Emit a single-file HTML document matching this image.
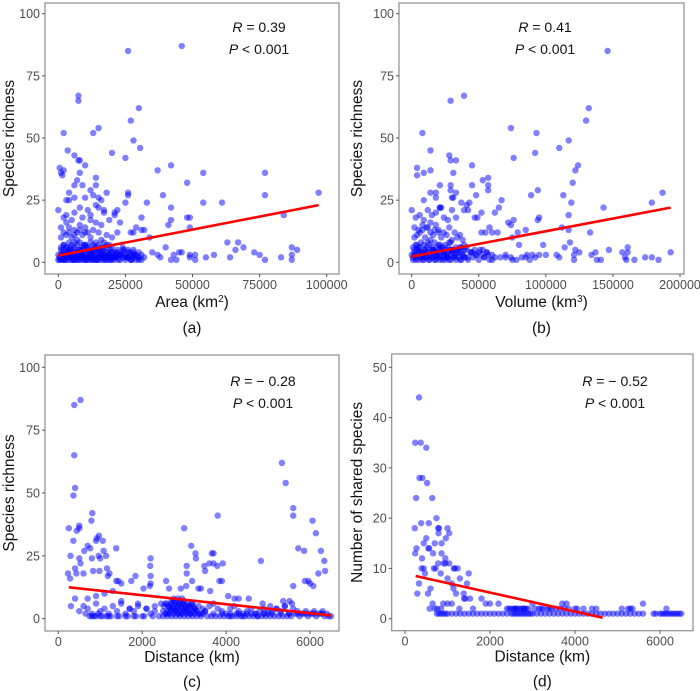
<!DOCTYPE html>
<html><head><meta charset="utf-8"><style>
html,body{margin:0;padding:0;background:#fff;}
svg{display:block;font-family:"Liberation Sans",Arial,sans-serif;}
</style></head><body>
<svg id="fig" width="700" height="691" viewBox="0 0 700 691" xmlns="http://www.w3.org/2000/svg"></svg>
<script>
// ---- Panel (a): area (thousand km2) vs species richness ----
const aX = [26,46,7.5,7.5,30,27,15,2,13,28,30.5,3.5,6,20,25,7.5,8,0.5,1,1.5,2,10,8,7,6,9,14,14,12,13,18,26,26,15,16,4,4,3,6,10,0,42,37,48,54,77,77,39,54,61,33,25,42,97,84,48,49,41,42,49,31,29,31,32,22,21,17,22,27,28,34,40,45,63,67,66,69,73,75,77,83,87,87,87,89,64,58,55,51,51,49,49,43,44,42,38,37,35,46,
1,1,1,2,2,2,3,3,3,4,4,4,5,5,5,6,6,6,7,7,7,8,8,8,9,9,9,10,10,10,11,11,11,12,12,12,13,13,13,14,14,14,15,15,15,16,16,16,17,17,18,18,19,19,20,20,21,21,22,22,23,23,24,24,25,25,26,26,27,27,28,28,29,29,30,30,31,31,32,
1,2,3,4,5,6,7,8,9,10,11,12,13,14,15,16,17,18,19,20,22,24,26,28,
1,2,3,4,5,6,7,8,9,10,11,12,13,14,15,16,18,20,
2,3,5,6,8,9,11,12,14,15,17,19,21,23,
1,3,4,6,8,10,12,16,
0.5,1.5,2.5,3.5,4.5,5.5,6.5,7.5,8.5,9.5,10.5,11.5,12.5,13.5,14.5,15.5,16.5,17.5,18.5,19.5,20.5,21.5,22.5,23.5,24.5,25.5,26.5,27.5,28.5,29.5,
0.5,1.5,2.5,3.5,4.5,5.5,6.5,7.5,8.5,9.5,10.5,11.5,12.5,13.5,14.5,15.5,16.5,17.5,18.5,19.5,21,23,25,27,
0,1,2,3,4,5,6,7,8,9,10,11,12,13,14,15,16,17,18,19,20,22,24,26,28,30,
0,1,2,3,4,5,6,7,8,9,10,11,12,13,14,15,16,17,18,19,20,21];
const aY = [85,87,67,65,62,57,54,52,52,49,46,45,43,44,42,41,41,38,36,35,37,39,36,33,31,31,34,31,29,27,28,28,27,26,25,28,25,25,26,26,21,39,37,32,36,36,27,27,24,24,24,24,22,28,19,18,18,15,17,14,18,14,13,13,21,20,21,12,12,12,10,6,4,8,8,5,6,4,3,1,2,6,3,1,5,2,3,2,1,3,3,2,3,1,1,2,3,4,4,
1,3,2,5,1,3,2,4,1,3,5,2,1,4,2,3,1,5,2,4,1,3,2,5,1,3,2,4,1,3,5,2,1,4,2,3,1,5,2,4,1,3,2,5,1,3,2,4,1,3,2,4,1,3,2,4,1,3,2,4,1,3,2,4,1,3,2,4,1,3,2,4,1,3,2,4,1,3,2,
6,7,6,8,7,6,7,8,6,7,6,8,7,6,7,6,8,6,7,6,5,6,5,5,
10,12,11,14,10,13,12,15,11,14,12,17,13,16,12,15,11,10,
18,19,17,20,22,18,21,19,23,22,20,17,19,16,
14,16,12,11,13,12,10,9,
2,4,1,3,5,2,4,1,3,5,2,4,1,3,5,2,4,1,3,5,2,4,1,3,5,2,4,1,3,2,
1,2,3,4,6,1,2,3,5,7,1,2,4,6,1,3,5,2,4,1,2,3,2,1,
3,5,7,6,4,2,8,9,5,3,7,6,4,2,8,5,3,6,7,2,4,3,5,2,3,1,
1,2,1,2,1,2,1,2,1,2,1,2,1,2,1,2,1,2,1,2,1,2];
const aFit = [[0,2.7],[97,23]];
// ---- Panel (b): volume (thousand km3) vs species richness ----
const bX = [146,39,29,132,130,74,93,8,117,110,92,14,76,28,29,33,45,124,4,4,14,9,31,122,120,21,29,45,53,57,57,57,29,31,30,33,18,18,14,9,48,67,89,94,113,119,143,179,187,0,22,21,37,41,43,42,39,47,49,52,62,65,76,72,74,95,94,117,117,112,133,118,114,98,79,75,60,55,52,58,64,85,80,100,108,110,121,121,122,125,134,137,138,141,147,157,159,160,161,161,166,174,179,184,193,70,85,90,95,75,
1,2,3,4,5,6,7,8,9,10,11,12,13,14,15,16,17,18,19,20,21,22,23,24,25,26,27,28,29,30,31,32,33,34,35,36,37,38,39,40,42,44,46,48,50,52,54,56,58,60,62,
1,3,5,7,9,11,13,15,17,19,21,23,25,27,29,31,33,35,37,39,41,44,47,50,53,56,
2,4,6,8,10,12,14,16,18,20,22,24,26,28,30,32,34,36,38,
3,6,9,12,15,18,21,24,27,30,33,
2,5,8,11,14,17,20,
1,2,3,4,5,6,7,8,9,10,11,12,13,14,15,16,17,18,19,20,21,22,23,24,25,26,27,28,29,30,32,34,36,38,40,
0,2,4,6,8,10,12,14,16,18,20,22,24,26,28,30,33,36,39,42,45,48,51,54,57,60,66,70,74,78,82,86,88,92];
const bY = [85,67,65,62,57,54,52,52,49,46,44,45,42,43,41,41,39,39,38,35,37,36,36,37,32,31,31,31,33,34,31,29,29,26,26,28,28,26,28,25,27,25,27,29,27,24,22,24,28,21,22,22,24,23,24,21,21,18,18,20,20,22,17,16,15,18,17,19,13,14,12,8,6,7,12,10,12,12,12,14,12,13,7,3,3,2,3,1,5,4,3,4,1,1,5,4,2,1,6,4,1,2,2,1,4,2,2,3,3,1,
1,3,2,5,1,4,2,3,1,5,2,4,1,3,2,5,1,4,2,3,1,5,2,4,1,3,2,5,1,4,2,3,1,5,2,4,1,3,2,5,1,4,2,3,1,3,2,4,1,3,2,
6,7,6,8,7,6,7,6,8,6,7,6,7,6,8,5,6,5,6,5,6,4,5,4,5,4,
10,11,12,13,10,14,12,11,15,13,10,12,11,14,9,12,10,11,9,
18,19,17,21,19,20,22,18,17,21,18,
14,13,15,14,16,13,12,
2,4,1,3,5,2,4,1,3,5,2,4,1,3,5,2,4,1,3,5,2,4,1,3,5,2,4,1,3,5,2,4,1,3,2,
3,5,7,6,4,2,8,9,5,3,7,6,4,2,8,5,3,6,7,2,4,3,5,2,3,1,2,3,2,1,2,3,1,2];
const bFit = [[0,2.3],[193,22]];
// ---- Panel (c): distance (km) vs species richness ----
const cX = [380,530,380,400,360,810,790,500,250,500,440,360,970,920,900,1060,700,760,1380,620,1080,290,960,1140,500,800,1000,2200,2190,3000,3060,3060,3170,3270,3280,3660,3700,3600,3700,3920,3800,3500,3480,3790,3840,3900,4830,5330,5420,5600,5600,5600,5720,5860,5880,5960,6060,6140,6260,6340,6360,6200,6080,6000,230,280,400,430,530,600,830,980,1160,1220,1180,1380,1430,1500,1740,1840,2200,2200,2030,2180,2570,2640,2920,3050,3190,3340,3400,3620,4050,4200,4300,4540,4870,5050,5360,5510,5570,
300,400,500,600,700,800,900,1000,1100,1200,1300,1400,1500,1600,1700,1800,1900,2000,2100,2200,2300,2400,2500,2550,2600,2650,2700,2750,2800,2850,2900,2950,3000,3050,3100,3150,3200,3250,3300,3350,3400,3450,3500,3600,3700,3800,3900,4000,4100,4200,4300,4400,4500,4600,4700,4800,4900,5000,5100,5200,5300,5400,5500,5600,5700,5800,5900,6000,6100,6200,6300,6400,6500,
2500,2600,2700,2800,2900,3000,3100,3200,3300,3400,2550,2650,2750,2850,2950,3050,3150,3250,3350,3450,650,750,850,950,1050,1150,1250,1450,1650,1850,2050,2250,3550,3650,3750,3850,3950,4050,4150,4250,4350,4450,4550,4650,4750,4850,4950,5050,5150,5250,5350,5450,
2600,2700,2800,2900,3000,3100,3200,3300,2650,2750,2850,2950,3050,3150,3250,700,900,1100,1300,1500,1700,1900,2100,2300,2450,3500,3700,3900,4100,4300,4500,4700,4900,5100,5300,5500,5700,5900,6100,6300,
2520,2620,2720,2820,2920,3020,3120,3220,2580,2680,2780,2880,2980,3080,3180,2700,2800,2900,3000,2750,2850,2950,5550,5650,5750,5850,5950,6050,6150,6250,6350,6450,4100,4250,4400,4600,4750,4900,5000,5200,5400,800,900,1000,1200,1400,1600,1800];
const cY = [85,87,65,52,49,42,39,37,36,36,35,31,33,32,31,31,29,28,28,27,27,25,25,25,24,24,24,24,21,36,21,18,29,26,24,26,26,22,22,22,41,19,21,21,15,15,23,62,54,44,41,13,28,27,15,15,39,34,27,23,19,18,13,14,18,16,20,18,22,18,19,19,20,18,17,15,15,14,15,17,17,14,12,13,15,12,12,13,15,12,12,11,9,8,8,8,6,5,7,7,6,
5,8,3,5,4,2,6,3,4,2,5,3,7,2,4,3,5,1,4,2,5,1,3,6,2,5,4,7,3,5,2,6,4,3,5,2,6,4,3,5,2,4,3,5,6,4,3,2,4,5,3,2,3,4,2,3,4,2,3,4,3,5,2,4,3,2,3,2,3,2,3,2,1,
1,1,1,1,1,1,1,1,1,1,2,2,2,2,2,2,2,2,2,2,2,1,1,2,1,1,1,1,1,1,1,1,1,1,1,1,1,1,1,1,1,1,1,1,1,1,1,1,1,1,1,1,
3,3,3,3,3,3,3,3,4,4,4,4,4,4,4,8,9,10,11,6,4,6,4,3,6,3,2,2,2,2,2,2,2,2,2,2,2,2,2,2,
5,5,5,5,5,5,5,5,6,6,6,6,6,6,6,7,7,7,7,8,8,8,1,2,1,2,1,2,1,2,1,1,1,2,1,2,1,2,3,4,5,1,1,1,1,1,1,1];
const cFit = [[250,12.5],[6500,1.3]];
// ---- Panel (d): distance (km) vs number of shared species ----
const dX = [330,240,370,500,340,410,520,260,640,230,380,560,740,780,800,1000,1040,790,960,500,700,860,440,240,270,550,570,660,860,950,910,950,1040,780,400,390,440,470,330,290,540,600,680,720,840,1000,1150,1170,1240,1290,1500,1460,1100,1140,1200,1380,1390,1420,1530,1800,1000,1100,900,850,760,700,580,650,1280,1600,1900,2000,2200,2400,2600,2800,3000,3200,3400,3700,3800,4000,4200,4400,4500,5100,5300,5600,6150,
750,800,850,900,950,1000,1100,1200,1300,1400,1500,1600,1700,1800,1900,2000,2100,2200,2300,2400,2500,2550,2600,2650,2700,2750,2800,2850,2900,2950,3000,3100,3200,3300,3400,3500,3600,3700,3800,3900,4000,4100,4200,4300,4400,4500,4600,4700,4800,4900,5000,5100,5200,5300,5400,5500,5600,5850,5900,6000,6050,6100,6150,6200,6250,6300,6350,6400,6450,6500,
2450,2500,2550,2600,2650,2700,2750,2800,2850,2900,3050,3150,3250,3350,3450,3550,3650,3750,3850,4050,5250,5350];
const dY = [44,35,35,34,28,28,27,24,24,18,19,19,20,18,18,18,17,17,16,16,15,15,15,13,14,14,14,13,13,11,11,12,11,11,12,10,10,9,7,5,5,6,10,10,9,8,10,10,10,8,9,7,7,6,5,5,4,4,4,4,3,3,3,2,2,2,2,3,2,2,3,3,3,2,2,2,3,2,2,3,3,2,2,2,2,2,2,3,2,
1,1,1,1,1,1,1,1,1,1,1,1,1,1,1,1,1,1,1,1,1,1,1,1,1,1,1,1,1,1,1,1,1,1,1,1,1,1,1,1,1,1,1,1,1,1,1,1,1,1,1,1,1,1,1,1,1,1,1,1,1,1,1,1,1,1,1,1,1,1,
2,2,2,2,2,2,2,2,2,2,2,2,2,2,2,2,2,2,2,2,2,2];
const dFit = [[250,8.5],[4650,0.2]];

const aXTicks=[0,25000,50000,75000,100000], bXTicks=[0,50000,100000,150000,200000], cXTicks=[0,2000,4000,6000];
const rYTicks=[0,25,50,75,100], dYTicks=[0,10,20,30,40,50];

const NS='http://www.w3.org/2000/svg';
const svg=document.getElementById('fig');
function mk(tag,attrs,parent){const e=document.createElementNS(NS,tag);for(const k in attrs)e.setAttribute(k,attrs[k]);(parent||svg).appendChild(e);return e;}

function panel(p){
  const g=mk('g',{});
  
  
  const sx=v=>p.x0+(v-p.xa)*(p.x1-p.x0)/(p.xb-p.xa);
  const sy=v=>p.y0+(v-p.ya)*(p.y1-p.y0)/(p.yb-p.ya);
  const box=mk('rect',{x:p.L,y:p.T,width:p.R-p.L,height:p.B-p.T,fill:'#fff',stroke:'#8c8c8c','stroke-width':1.2},g);
  
  
  p.xt.forEach(t=>{const X=sx(t);
    mk('line',{x1:X,x2:X,y1:p.B,y2:p.B+3,stroke:'#555'},g);
    const tx=mk('text',{x:X,y:p.B+15,'text-anchor':'middle','font-size':12.5,fill:'#4d4d4d'},g);
    tx.textContent=t;
    
    });
  p.yt.forEach(t=>{const Y=sy(t);
    mk('line',{x1:p.L-3,x2:p.L,y1:Y,y2:Y,stroke:'#555'},g);
    const tx=mk('text',{x:p.L-5,y:Y+4.5,'text-anchor':'end','font-size':12.5,fill:'#4d4d4d'},g);
    tx.textContent=t;
    
    });
  const pts=mk('g',{fill:'#0000ff','fill-opacity':0.5},g);
  
  
  for(let i=0;i<p.X.length;i++){
    const c=mk('circle',{cx:sx(p.X[i]*p.xs),cy:sy(p.Y[i]),r:3.2},pts);
    
    
  }
  const ln=mk('line',{x1:sx(p.fit[0][0]*p.xs),y1:sy(p.fit[0][1]),x2:sx(p.fit[1][0]*p.xs),y2:sy(p.fit[1][1]),stroke:'#ff0000','stroke-width':2.6},g);
  
  
  const t1=mk('text',{x:p.ax,y:p.ay,'text-anchor':'middle','font-size':14,fill:'#111'},g);
  t1.innerHTML='<tspan font-style="italic">R</tspan> = '+p.r;
  
  
  const t2=mk('text',{x:p.ax,y:p.ay+22,'text-anchor':'middle','font-size':14,fill:'#111'},g);
  t2.innerHTML='<tspan font-style="italic">P</tspan> &lt; 0.001';
  
  
  const xt=mk('text',{x:(p.L+p.R)/2,y:p.B+p.tO,'text-anchor':'middle','font-size':15.5,fill:'#111'},g);
  xt.innerHTML=p.xl;
  
  
  const yc=(p.T+p.B)/2;
  const yt=mk('text',{x:p.yx,y:yc,'text-anchor':'middle','font-size':15.5,fill:'#111',transform:'rotate(-90 '+p.yx+' '+yc+')'},g);
  yt.textContent=p.yl;
  
  
  const lab=mk('text',{x:(p.L+p.R)/2,y:p.B+p.lO,'text-anchor':'middle','font-size':15.5,fill:'#111'},g);
  lab.textContent='('+p.id+')';
  
  
}
const sup2='Area (km<tspan baseline-shift="super" font-size="10">2</tspan>)';
const sup3='Volume (km<tspan baseline-shift="super" font-size="10">3</tspan>)';
panel({id:'a',X:aX,Y:aY,fit:aFit,xs:1000,L:45,R:339,T:3,B:274,xa:0,xb:100000,x0:58.3,x1:326.7,ya:0,yb:100,y0:262.3,y1:13.7,xt:aXTicks,yt:rYTicks,r:'0.39',ax:259,ay:32,xl:sup2,yl:'Species richness',yx:14,tO:33,lO:59});
panel({id:'b',X:bX,Y:bY,fit:bFit,xs:1000,L:399,R:684,T:3,B:274,xa:0,xb:200000,x0:411.7,x1:680,ya:0,yb:100,y0:262.3,y1:13.7,xt:bXTicks,yt:rYTicks,r:'0.41',ax:545,ay:32,xl:sup3,yl:'Species richness',yx:362,tO:33,lO:59});
panel({id:'c',X:cX,Y:cY,fit:cFit,xs:1,L:45,R:339,T:355,B:631,xa:0,xb:6000,x0:58.3,x1:310,ya:0,yb:100,y0:618.7,y1:367.3,xt:cXTicks,yt:rYTicks,r:'\u2212 0.28',ax:263,ay:386,xl:'Distance (km)',yl:'Species richness',yx:14,tO:31,lO:56});
panel({id:'d',X:dX,Y:dY,fit:dFit,xs:1,L:391.7,R:693,T:354,B:630.7,xa:0,xb:6000,x0:405,x1:660,ya:0,yb:50,y0:618.7,y1:367.3,xt:cXTicks,yt:dYTicks,r:'\u2212 0.52',ax:615,ay:386,xl:'Distance (km)',yl:'Number of shared species',yx:362,tO:31,lO:56});
</script>
</body></html>
